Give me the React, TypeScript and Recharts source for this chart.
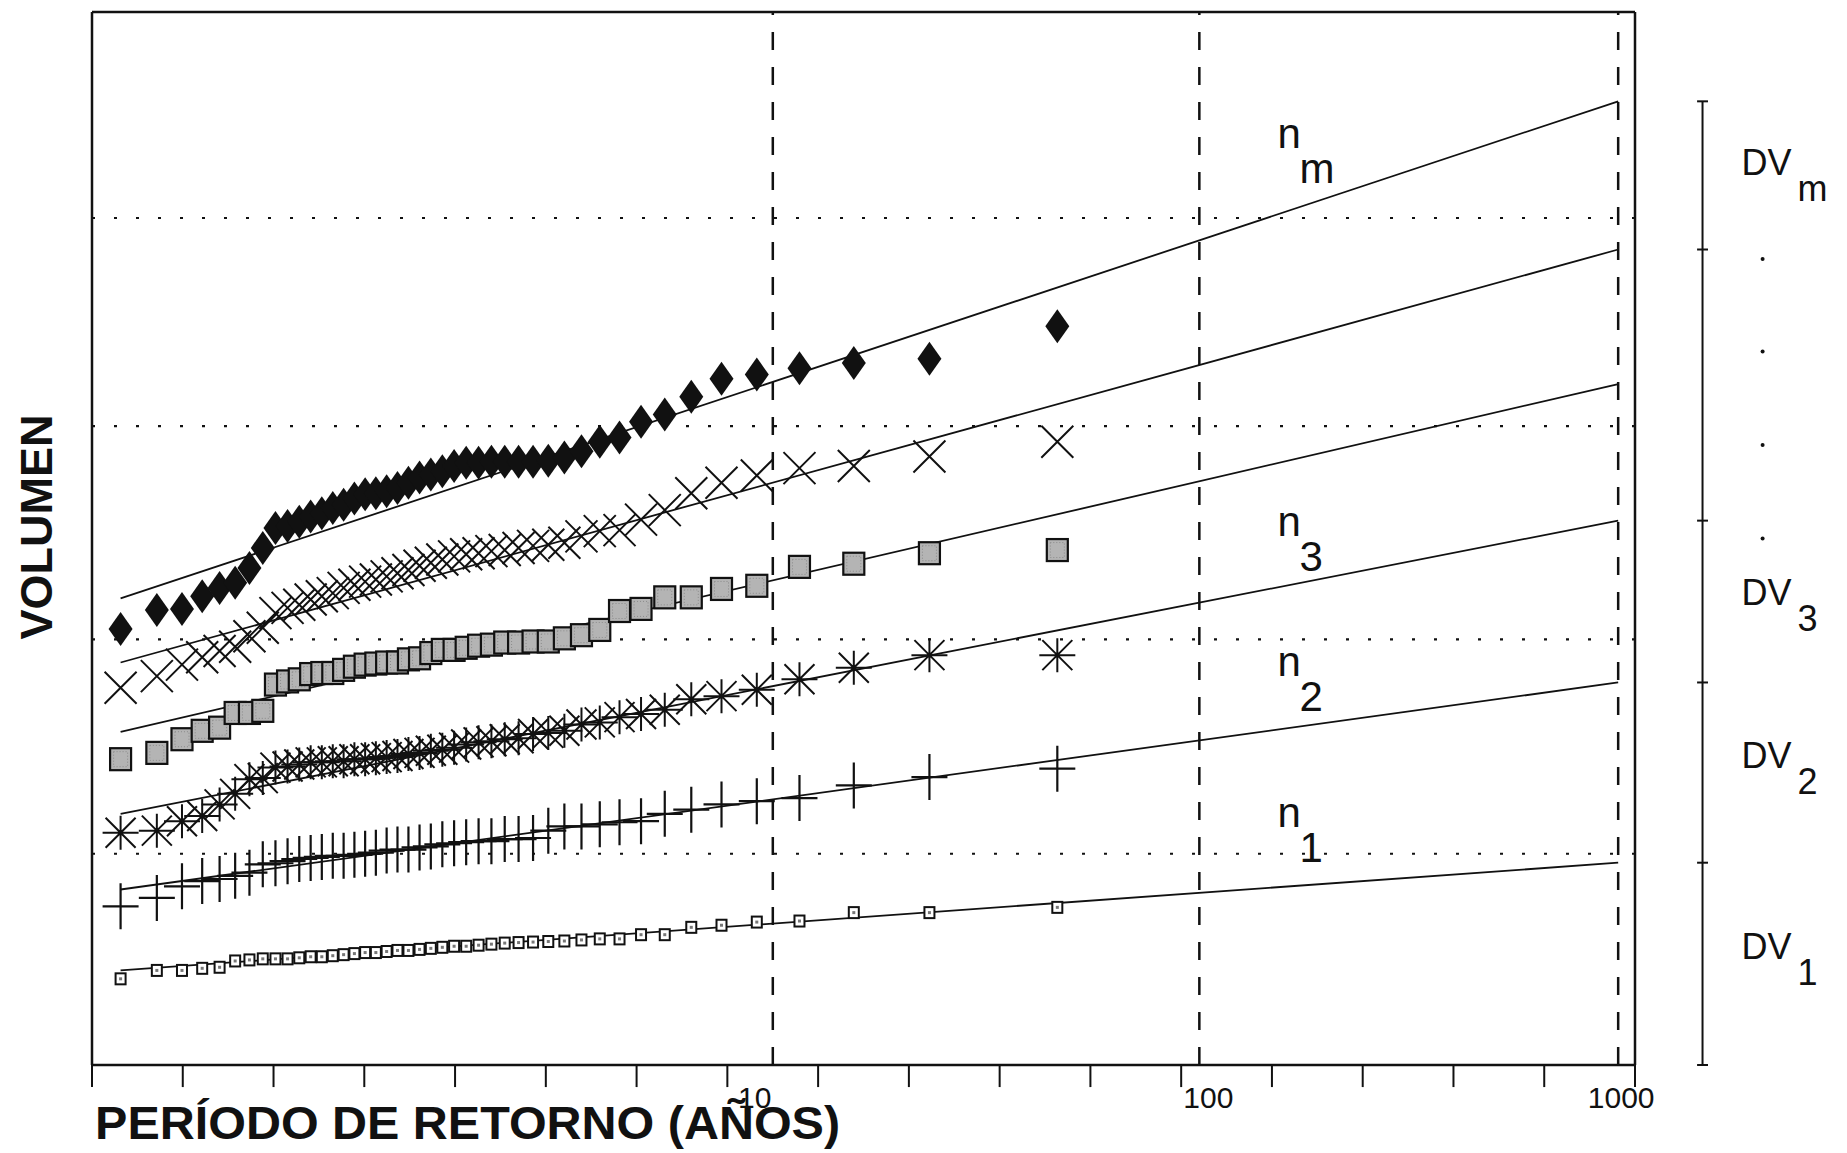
import React from 'react';
import { ComposedChart, Scatter, Line, XAxis, YAxis, ReferenceLine, ReferenceDot } from 'recharts';

const FONT = '"Liberation Sans", Arial, Helvetica, sans-serif';
const INK = '#111';

// Gumbel reduced variate of the 45 plotting positions (smallest to largest)
const gumbelX = [
  -1.3425, -1.1428, -1.0043, -0.893, -0.7971, -0.7114, -0.6327, -0.5592, -0.4894, -0.4227,
  -0.3582, -0.2955, -0.234, -0.1736, -0.1139, -0.0545, 0.0046, 0.0637, 0.1231, 0.1828,
  0.2432, 0.3044, 0.3665, 0.4299, 0.4947, 0.5612, 0.6296, 0.7003, 0.7736, 0.8499,
  0.9297, 1.0136, 1.1022, 1.1964, 1.2972, 1.406, 1.5245, 1.6552, 1.8013, 1.9678,
  2.1622, 2.3973, 2.6966, 3.1132, 3.8177,
];

// volumes (arbitrary units 0..100)
const volN1 = [
  8.2, 9.0, 9.0, 9.2, 9.3, 9.9, 10.0, 10.1, 10.1, 10.1,
  10.2, 10.3, 10.3, 10.4, 10.5, 10.6, 10.7, 10.7, 10.8, 10.9,
  10.9, 11.0, 11.1, 11.2, 11.3, 11.3, 11.4, 11.5, 11.6, 11.65,
  11.7, 11.75, 11.8, 11.9, 12.0, 12.0, 12.4, 12.4, 13.1, 13.3,
  13.6, 13.7, 14.5, 14.5, 15.0,
];
const volN2 = [
  15.1, 15.9, 17.0, 17.5, 17.7, 18.0, 18.3, 19.1, 19.2, 19.4,
  19.6, 19.7, 19.8, 19.9, 19.9, 20.0, 20.1, 20.2, 20.4, 20.5,
  20.5, 20.7, 20.8, 21.0, 21.1, 21.2, 21.3, 21.3, 21.5, 21.5,
  21.6, 22.3, 22.7, 22.7, 22.9, 23.1, 23.2, 23.9, 24.3, 24.8,
  25.1, 25.4, 26.6, 27.4, 28.2,
];
const volN3 = [
  22.1, 22.3, 23.2, 23.7, 24.8, 25.8, 27.2, 27.3, 28.3, 28.4,
  28.6, 28.8, 28.8, 28.9, 28.9, 29.1, 29.1, 29.2, 29.3, 29.4,
  29.6, 29.7, 29.9, 30.0, 30.2, 30.5, 30.7, 30.8, 31.0, 31.1,
  31.5, 31.6, 31.8, 32.4, 32.6, 33.1, 33.4, 33.8, 34.8, 35.1,
  35.7, 36.7, 37.8, 39.0, 39.0,
];
const volN4 = [
  29.1, 29.7, 31.0, 31.8, 32.1, 33.5, 33.5, 33.7, 36.2, 36.5,
  36.7, 37.2, 37.3, 37.3, 37.6, 37.9, 38.1, 38.2, 38.3, 38.3,
  38.6, 38.7, 39.2, 39.5, 39.5, 39.7, 39.9, 40.0, 40.2, 40.2,
  40.3, 40.3, 40.6, 40.9, 41.4, 43.2, 43.4, 44.5, 44.5, 45.3,
  45.6, 47.4, 47.7, 48.7, 49.0,
];
const volN5 = [
  35.9, 37.0, 38.1, 38.8, 39.4, 39.8, 40.8, 41.6, 43.0, 43.5,
  43.8, 44.3, 44.6, 44.9, 45.4, 45.7, 46.0, 46.2, 46.5, 46.8,
  47.1, 47.5, 47.8, 48.1, 48.4, 48.6, 48.7, 48.9, 49.0, 49.2,
  49.4, 49.5, 49.7, 50.3, 50.8, 50.9, 51.9, 52.8, 54.4, 55.4,
  56.1, 56.8, 57.0, 57.9, 59.3,
];
const volNm = [
  41.5, 43.3, 43.4, 44.6, 45.4, 45.9, 47.3, 49.2, 51.1, 51.3,
  51.7, 52.2, 52.5, 53.0, 53.3, 53.9, 54.3, 54.4, 54.6, 54.9,
  55.4, 55.9, 56.2, 56.5, 57.0, 57.3, 57.3, 57.4, 57.4, 57.4,
  57.4, 57.5, 57.8, 58.4, 59.3, 59.7, 61.2, 61.9, 63.6, 65.3,
  65.7, 66.3, 66.8, 67.2, 70.3,
];

// fitted lines: value at the first plotting position and at T = 1000
const fitFromX = -1.3425;
const fitToX = 6.9073;
const fitFrom = [9.0, 16.7, 23.9, 31.7, 38.3, 44.4];
const fitTo = [19.25, 36.4, 51.8, 64.8, 77.6, 91.7];

const axisTicks = [-1.5, -1, -0.5, 0, 0.5, 1, 1.5, 2, 2.5, 3, 3.5, 4, 4.5, 5, 5.5, 6, 6.5, 7];
const periodLabels = ['10', '100', '1000'];
const periodX = [2.2504, 4.6001, 6.9073];
const gridLevels = [20.1, 40.5, 60.8, 80.6];

// DV bar on the right: ticks at the T = 1000 value of each line
const dvTicks = [0, 19.25, 36.4, 51.8, 77.6, 91.7];

const Y_TOP = 100.2;
const toPoints = (vals: number[]) => gumbelX.map((x, i) => ({ x, y: vals[i] }));

const Diamond = ({ cx, cy }: any) => (
  <polygon points={`${cx},${cy - 17} ${cx + 12},${cy} ${cx},${cy + 17} ${cx - 12},${cy}`} fill={INK} />
);
const Cross = ({ cx, cy }: any) => (
  <path d={`M${cx - 16},${cy - 16}L${cx + 16},${cy + 16}M${cx - 16},${cy + 16}L${cx + 16},${cy - 16}`}
    stroke={INK} strokeWidth={2} fill="none" />
);
const GreySquare = ({ cx, cy }: any) => (
  <g>
    <rect x={cx - 10.5} y={cy - 11} width={21} height={22} fill="#b4b4b4" stroke={INK} strokeWidth={2.2} />
    <rect x={cx - 7} y={cy - 7.5} width={14} height={15} fill="none" stroke="#8a8a8a" strokeWidth={1} strokeDasharray="1 2" />
  </g>
);
const Star = ({ cx, cy }: any) => (
  <path d={`M${cx - 15},${cy - 15}L${cx + 15},${cy + 15}M${cx - 15},${cy + 15}L${cx + 15},${cy - 15}M${cx},${cy - 17}L${cx},${cy + 17}M${cx - 18},${cy}L${cx + 18},${cy}`}
    stroke={INK} strokeWidth={2} fill="none" />
);
const Plus = ({ cx, cy }: any) => (
  <path d={`M${cx - 18},${cy}L${cx + 18},${cy}M${cx},${cy - 23}L${cx},${cy + 23}`} stroke={INK} strokeWidth={2.2} fill="none" />
);
const SmallSquare = ({ cx, cy }: any) => (
  <g>
    <rect x={cx - 5} y={cy - 5.5} width={10} height={11} fill="#fff" stroke={INK} strokeWidth={2} />
    <rect x={cx - 1.5} y={cy - 1.5} width={3} height={3} fill="#777" />
  </g>
);

const subLabel = (main: string, sub: string, size: number, dx: number, dy: number) => ({ cx, cy }: any) => (
  <g fontFamily={FONT} fontSize={size} fill={INK}>
    <text x={cx} y={cy}>{main}</text>
    <text x={cx + dx} y={cy + dy}>{sub}</text>
  </g>
);

const periodShift = [-18, 9, 3];

export default function App() {
  const nLabels = [
    { sub: 'm', y: 87.3 },
    { sub: '3', y: 50.3 },
    { sub: '2', y: 37.0 },
    { sub: '1', y: 22.6 },
  ];
  const dvLabels = [
    { sub: 'm', y: 84.7 },
    { sub: '3', y: 43.8 },
    { sub: '2', y: 28.3 },
    { sub: '1', y: 10.1 },
  ];
  const dvDots = [76.7, 67.9, 59.0, 50.1];
  const frame = { stroke: INK, strokeWidth: 2.5 };

  return (
    <div style={{ position: 'absolute', left: 0, top: 0, width: 1847, height: 1153, background: '#fff' }}>
      <ComposedChart width={1847} height={1153} margin={{ top: 12, right: 212, bottom: 58, left: 92 }}>
        <XAxis
          type="number"
          dataKey="x"
          domain={[-1.5, 7]}
          ticks={axisTicks}
          allowDataOverflow
          tick={false}
          tickLine={false}
          axisLine={frame}
          height={30}
        />
        <YAxis type="number" dataKey="y" domain={[0, Y_TOP]} allowDataOverflow hide />

        <ReferenceLine x={-1.5} {...frame} ifOverflow="visible" />
        <ReferenceLine x={7} {...frame} ifOverflow="visible" />
        <ReferenceLine y={Y_TOP} {...frame} ifOverflow="visible" />

        {axisTicks.map((t) => (
          <ReferenceLine key={`xt${t}`} segment={[{ x: t, y: 0 }, { x: t, y: -2.1 }]}
            stroke={INK} strokeWidth={2} ifOverflow="visible" />
        ))}
        {periodX.map((x, i) => (
          <ReferenceDot key={`pl${x}`} x={x} y={-4.1} r={0} ifOverflow="visible"
            shape={({ cx, cy }: any) => (
              <text x={cx + periodShift[i]} y={cy} textAnchor="middle" fontSize={30} fontFamily={FONT} fill={INK}>
                {periodLabels[i]}
              </text>
            )} />
        ))}

        {gridLevels.map((v) => (
          <ReferenceLine key={`g${v}`} y={v} stroke={INK} strokeWidth={2.2} strokeDasharray="3 19" />
        ))}
        {periodX.map((x) => (
          <ReferenceLine key={`p${x}`} x={x} stroke={INK} strokeWidth={2.5} strokeDasharray="18 17" />
        ))}

        {fitFrom.map((v, i) => (
          <Line
            key={`fit${i}`}
            data={[{ x: fitFromX, y: v }, { x: fitToX, y: fitTo[i] }]}
            dataKey="y"
            stroke={INK}
            strokeWidth={1.8}
            dot={false}
            activeDot={false}
            isAnimationActive={false}
          />
        ))}

        <Scatter data={toPoints(volN1)} shape={SmallSquare} isAnimationActive={false} />
        <Scatter data={toPoints(volN2)} shape={Plus} isAnimationActive={false} />
        <Scatter data={toPoints(volN3)} shape={Star} isAnimationActive={false} />
        <Scatter data={toPoints(volN4)} shape={GreySquare} isAnimationActive={false} />
        <Scatter data={toPoints(volN5)} shape={Cross} isAnimationActive={false} />
        <Scatter data={toPoints(volNm)} shape={Diamond} isAnimationActive={false} />

        {nLabels.map((l) => (
          <ReferenceDot key={`n${l.sub}`} x={5.03} y={l.y} r={0} ifOverflow="visible"
            shape={subLabel('n', l.sub, 42, 22, 35)} />
        ))}

        <ReferenceLine segment={[{ x: 7.372, y: 0 }, { x: 7.372, y: 91.7 }]} stroke={INK} strokeWidth={2} ifOverflow="visible" />
        {dvTicks.map((v) => (
          <ReferenceLine key={`t${v}`} segment={[{ x: 7.342, y: v }, { x: 7.402, y: v }]} stroke={INK} strokeWidth={2} ifOverflow="visible" />
        ))}
        {dvDots.map((v) => (
          <ReferenceDot key={`d${v}`} x={7.703} y={v} r={2} fill={INK} stroke="none" ifOverflow="visible" />
        ))}
        {dvLabels.map((l) => (
          <ReferenceDot key={`dv${l.sub}`} x={7.587} y={l.y} r={0} ifOverflow="visible"
            shape={subLabel('DV', l.sub, 36, 56, 26)} />
        ))}

        <ReferenceDot x={-1.72} y={51.2} r={0} ifOverflow="visible"
          shape={({ cx, cy }: any) => (
            <text x={cx} y={cy} transform={`rotate(-90 ${cx} ${cy})`} textAnchor="middle"
              fontFamily={FONT} fontWeight="bold" fontSize={45} fill={INK}>VOLUMEN</text>
          )} />
        <ReferenceDot x={-1.483} y={-7.0} r={0} ifOverflow="visible"
          shape={({ cx, cy }: any) => (
            <text x={cx} y={cy} fontFamily={FONT} fontWeight="bold" fontSize={46} fill={INK}
              textLength={745} lengthAdjust="spacingAndGlyphs">PERÍODO DE RETORNO (AÑOS)</text>
          )} />
      </ComposedChart>
    </div>
  );
}
